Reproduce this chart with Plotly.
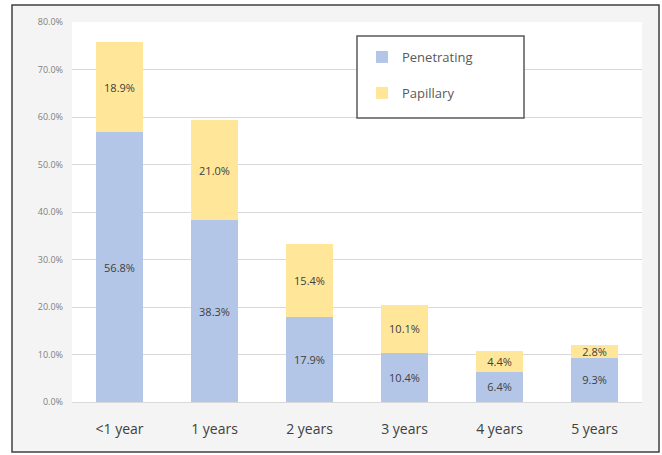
import plotly.graph_objects as go

categories = ["<1 year", "1 years", "2 years", "3 years", "4 years", "5 years"]
penetrating = [56.8, 38.3, 17.9, 10.4, 6.4, 9.3]
papillary = [18.9, 21.0, 15.4, 10.1, 4.4, 2.8]
series_names = ["Penetrating", "Papillary"]
y_ticks = [0, 10, 20, 30, 40, 50, 60, 70, 80]

W, H = 662, 455
ML, MR, MT, MB = 72, 20, 22, 53
PW, PH = W - ML - MR, H - MT - MB

def px_x(p):
    return (p - ML) / PW

def px_y(p):
    return (H - MB - p) / PH

FONT = "Open Sans"
fig = go.Figure()
for name, vals, col, grp in [(series_names[0], penetrating, "#b4c6e7", "a"),
                             (series_names[1], papillary, "#ffe699", "b")]:
    fig.add_trace(go.Bar(
        x=categories, y=vals, name=name, marker=dict(color=col, line=dict(width=0)),
        text=[f"{v:.1f}%" for v in vals], textposition="inside",
        insidetextanchor="middle", textangle=0,
        textfont=dict(family=FONT, size=11, color="#404040"),
        legendgroup=grp, cliponaxis=False,
    ))

fig.update_layout(
    width=W, height=H, barmode="stack", bargap=0.5,
    margin=dict(l=ML, r=MR, t=MT, b=MB),
    paper_bgcolor="white", plot_bgcolor="white",
    font=dict(family=FONT, color="#595959"),
    uniformtext=dict(minsize=11, mode="show"),
    xaxis=dict(showgrid=False, showline=False, ticks="", ticklabelstandoff=17,
               tickfont=dict(family=FONT, size=14, color="#404040")),
    yaxis=dict(range=[0, 80], tickvals=y_ticks,
               ticktext=[f"{v:.1f}%" for v in y_ticks],
               showgrid=True, gridcolor="#d9d9d9", gridwidth=1,
               zeroline=True, zerolinecolor="#d9d9d9", zerolinewidth=1,
               showline=False, ticks="", ticklabelstandoff=8,
               tickfont=dict(family=FONT, size=9, color="#7f7f7f")),
    legend=dict(x=px_x(362), y=px_y(42), xanchor="left", yanchor="top",
                bgcolor="rgba(0,0,0,0)", borderwidth=0, traceorder="grouped",
                tracegroupgap=16, itemwidth=30,
                font=dict(family=FONT, size=13, color="#595959")),
    shapes=[
        dict(type="rect", xref="paper", yref="paper",
             x0=px_x(12), x1=px_x(659), y0=px_y(452), y1=px_y(5),
             fillcolor="#f4f4f4", line=dict(color="#404040", width=1.5), layer="below"),
        dict(type="rect", xref="paper", yref="paper",
             x0=0, x1=1, y0=0, y1=1,
             fillcolor="white", line=dict(width=0), layer="below"),
        dict(type="rect", xref="paper", yref="paper",
             x0=px_x(357), x1=px_x(524), y0=px_y(118), y1=px_y(36),
             fillcolor="white", line=dict(color="#595959", width=1.5), layer="above"),
    ],
)
fig.write_html("out.html", config={"displayModeBar": False},
               post_script="document.body.style.margin='0';")
